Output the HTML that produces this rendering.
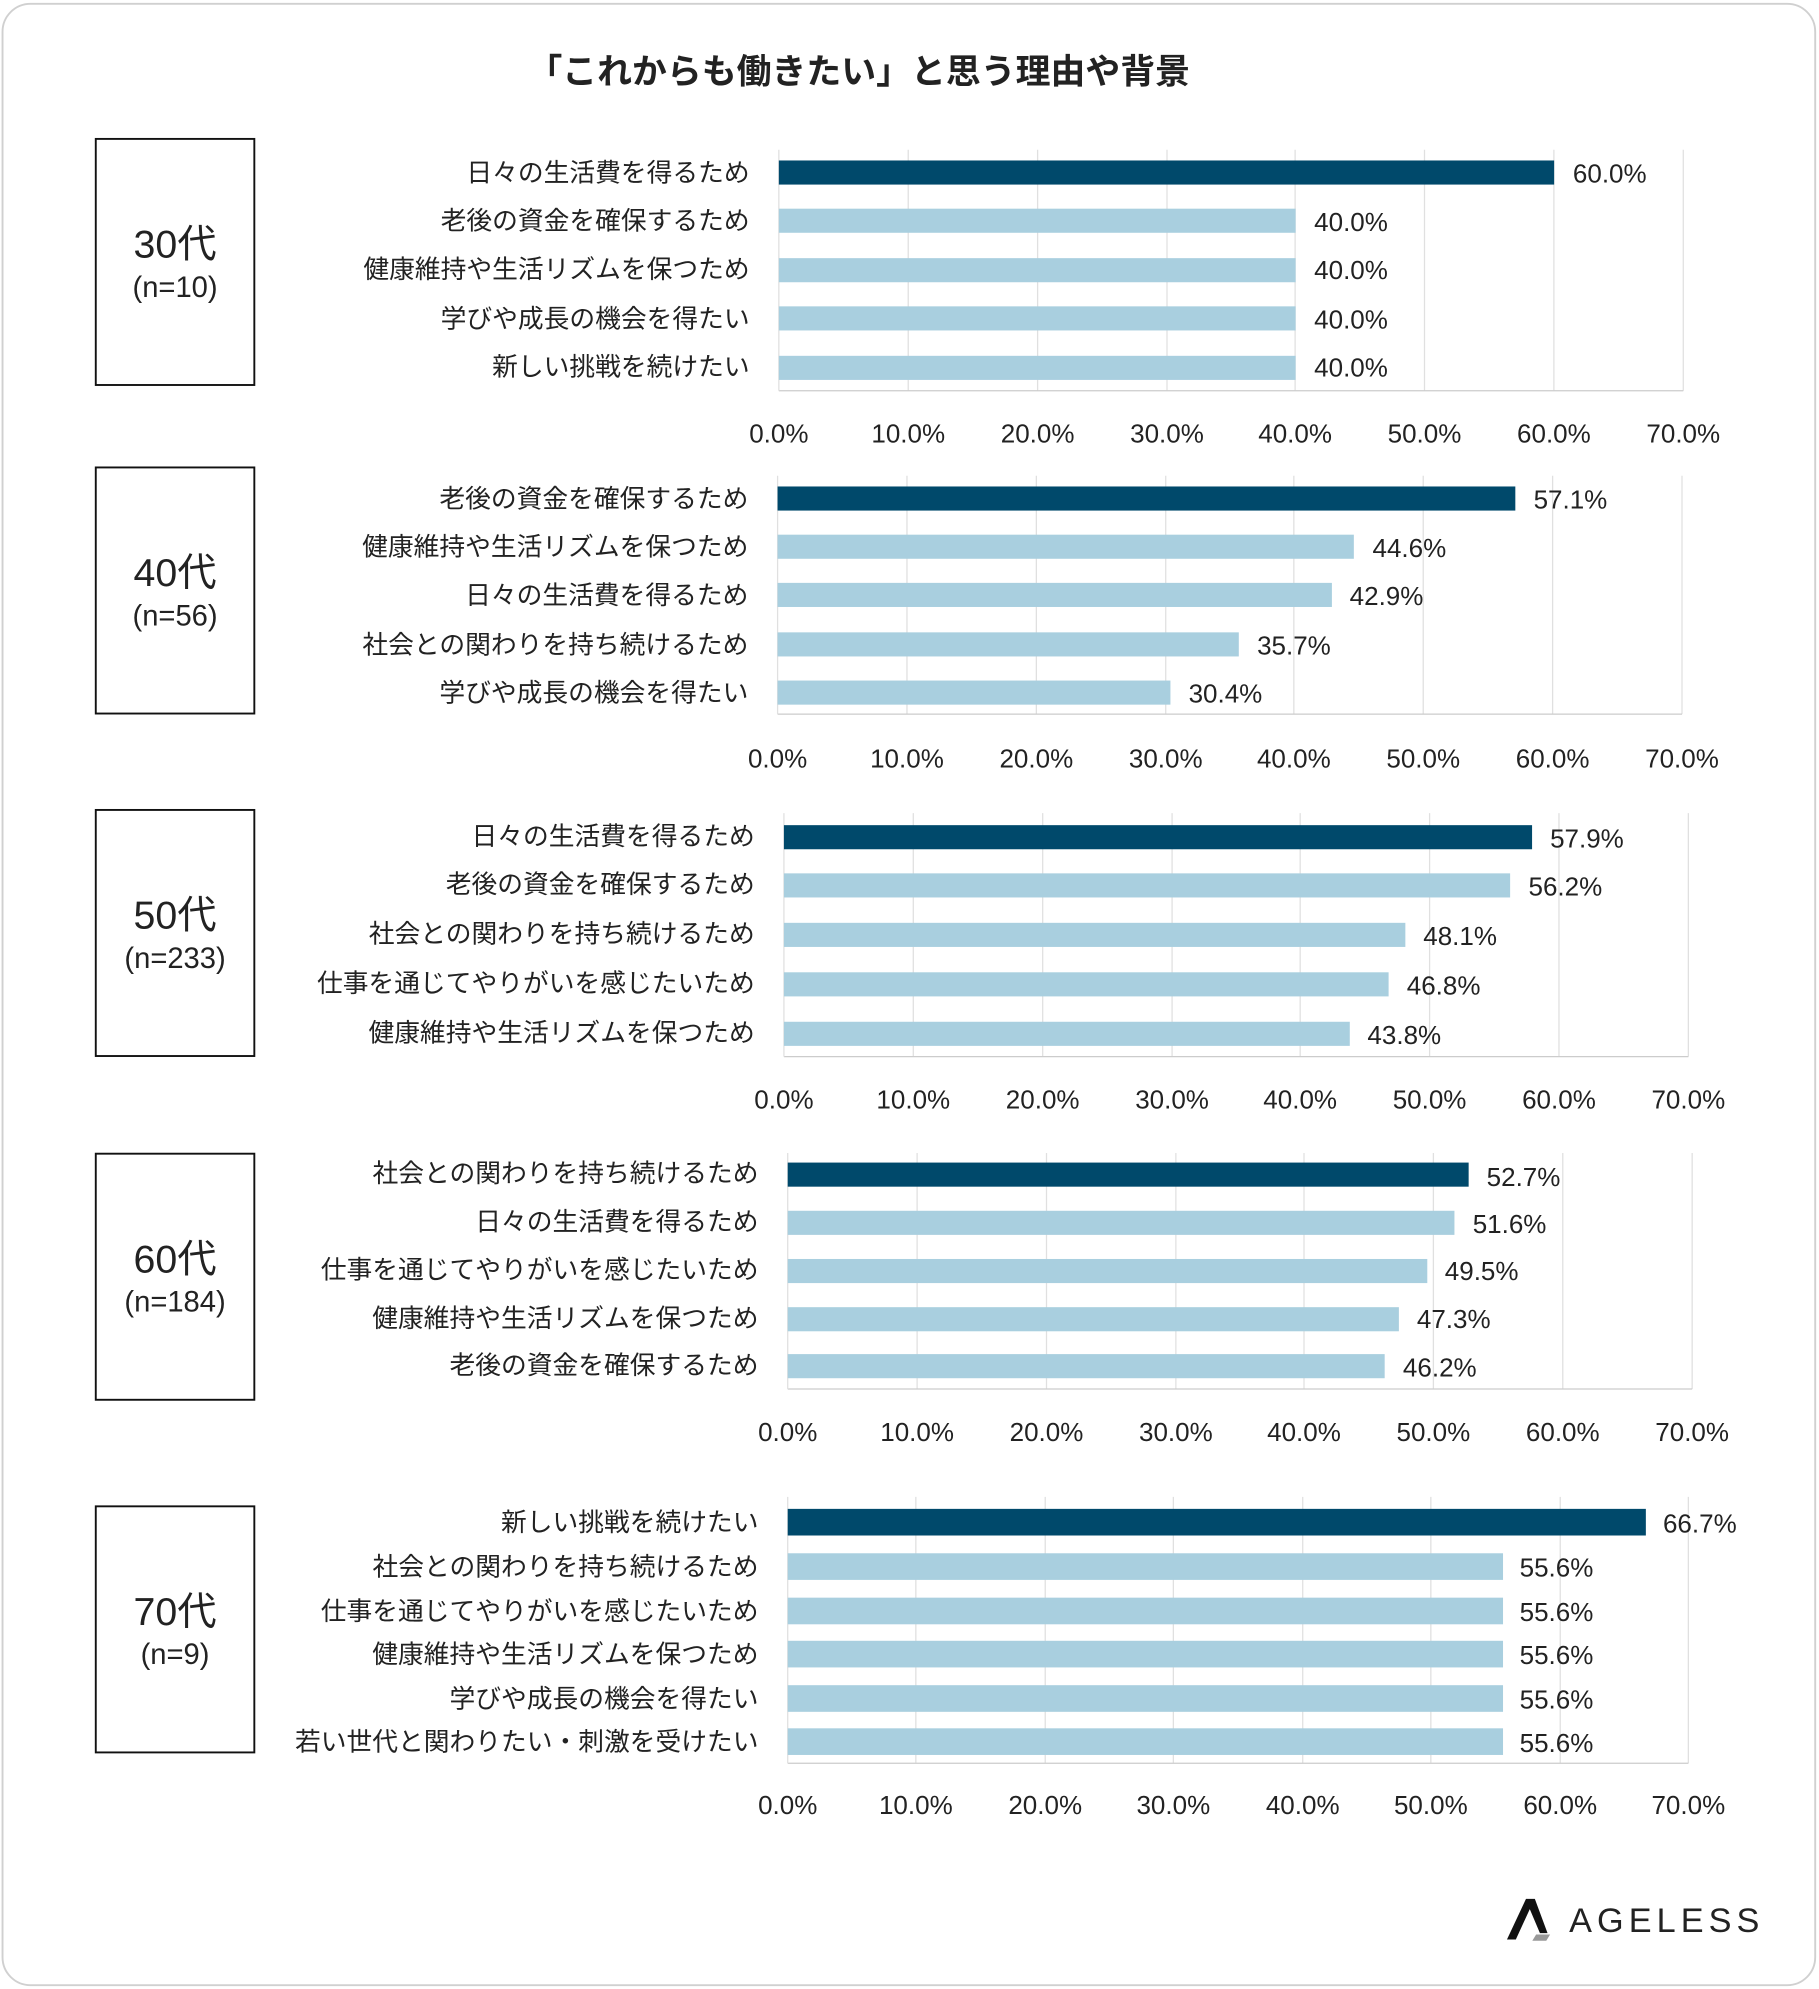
<!DOCTYPE html>
<html><head><meta charset="utf-8"><style>
html,body{margin:0;padding:0;background:#fff;}
svg{display:block;}
text{font-family:"Liberation Sans","Noto Sans CJK JP",sans-serif;fill:#222;}
.l{font-size:20.3px;text-anchor:end;}
.v{font-size:20.5px;}
.t{font-size:20.5px;text-anchor:middle;}
.g{stroke:#e0e0e0;stroke-width:1;}
.d{fill:#00496b;}
.b{fill:#a9cfdf;}
</style></head><body>
<svg width="1819" height="1989" viewBox="0 0 1434 1568" xmlns="http://www.w3.org/2000/svg">
<rect x="2" y="3" width="1429" height="1562" rx="22" fill="#fff" stroke="#d0d0d0" stroke-width="1.5"/>
<text x="677" y="66" style="font-size:27.5px;text-anchor:middle;font-weight:bold" fill="#222">「これからも働きたい」と思う理由や背景</text>

<!-- Panel 1 -->
<rect x="75.5" y="109.5" width="125" height="194" fill="none" stroke="#111" stroke-width="1.5"/>
<text x="138" y="203" style="font-size:31px;text-anchor:middle">30代</text>
<text x="138" y="234" style="font-size:23px;text-anchor:middle">(n=10)</text>
<g transform="translate(614,0)">
<g class="g"><line x1="102" y1="118" x2="102" y2="308"/><line x1="204" y1="118" x2="204" y2="308"/><line x1="306" y1="118" x2="306" y2="308"/><line x1="407" y1="118" x2="407" y2="308"/><line x1="509" y1="118" x2="509" y2="308"/><line x1="611" y1="118" x2="611" y2="308"/><line x1="713" y1="118" x2="713" y2="308"/></g>
<line x1="0" y1="308" x2="713" y2="308" stroke="#ccc"/><line x1="0" y1="118" x2="0" y2="308" stroke="#e0e0e0"/>
<rect class="d" x="0" y="126.5" width="611.2" height="19"/>
<rect class="b" x="0" y="164.5" width="407.4" height="19"/>
<rect class="b" x="0" y="203.5" width="407.4" height="19"/>
<rect class="b" x="0" y="241.5" width="407.4" height="19"/>
<rect class="b" x="0" y="280.5" width="407.4" height="19"/>
<text class="l" x="-23" y="143">日々の生活費を得るため</text>
<text class="l" x="-23" y="181">老後の資金を確保するため</text>
<text class="l" x="-23" y="219">健康維持や生活リズムを保つため</text>
<text class="l" x="-23" y="258">学びや成長の機会を得たい</text>
<text class="l" x="-23" y="296">新しい挑戦を続けたい</text>
<text class="v" x="626" y="144">60.0%</text>
<text class="v" x="422" y="182">40.0%</text>
<text class="v" x="422" y="220">40.0%</text>
<text class="v" x="422" y="259">40.0%</text>
<text class="v" x="422" y="297">40.0%</text>
<text class="t" x="0" y="349">0.0%</text><text class="t" x="102" y="349">10.0%</text><text class="t" x="204" y="349">20.0%</text><text class="t" x="306" y="349">30.0%</text><text class="t" x="407" y="349">40.0%</text><text class="t" x="509" y="349">50.0%</text><text class="t" x="611" y="349">60.0%</text><text class="t" x="713" y="349">70.0%</text>
</g>

<!-- Panel 2 -->
<rect x="75.5" y="368.5" width="125" height="194" fill="none" stroke="#111" stroke-width="1.5"/>
<text x="138" y="462" style="font-size:31px;text-anchor:middle">40代</text>
<text x="138" y="493" style="font-size:23px;text-anchor:middle">(n=56)</text>
<g transform="translate(613,0)">
<g class="g"><line x1="102" y1="375" x2="102" y2="563"/><line x1="204" y1="375" x2="204" y2="563"/><line x1="306" y1="375" x2="306" y2="563"/><line x1="407" y1="375" x2="407" y2="563"/><line x1="509" y1="375" x2="509" y2="563"/><line x1="611" y1="375" x2="611" y2="563"/><line x1="713" y1="375" x2="713" y2="563"/></g>
<line x1="0" y1="563" x2="713" y2="563" stroke="#ccc"/><line x1="0" y1="375" x2="0" y2="563" stroke="#e0e0e0"/>
<rect class="d" x="0" y="383.5" width="581.6" height="19"/>
<rect class="b" x="0" y="421.5" width="454.3" height="19"/>
<rect class="b" x="0" y="459.5" width="437.0" height="19"/>
<rect class="b" x="0" y="498.5" width="363.6" height="19"/>
<rect class="b" x="0" y="536.5" width="309.7" height="19"/>
<text class="l" x="-23" y="400">老後の資金を確保するため</text>
<text class="l" x="-23" y="438">健康維持や生活リズムを保つため</text>
<text class="l" x="-23" y="476">日々の生活費を得るため</text>
<text class="l" x="-23" y="515">社会との関わりを持ち続けるため</text>
<text class="l" x="-23" y="553">学びや成長の機会を得たい</text>
<text class="v" x="596" y="401">57.1%</text>
<text class="v" x="469" y="439">44.6%</text>
<text class="v" x="451" y="477">42.9%</text>
<text class="v" x="378" y="516">35.7%</text>
<text class="v" x="324" y="554">30.4%</text>
<text class="t" x="0" y="605">0.0%</text><text class="t" x="102" y="605">10.0%</text><text class="t" x="204" y="605">20.0%</text><text class="t" x="306" y="605">30.0%</text><text class="t" x="407" y="605">40.0%</text><text class="t" x="509" y="605">50.0%</text><text class="t" x="611" y="605">60.0%</text><text class="t" x="713" y="605">70.0%</text>
</g>

<!-- Panel 3 -->
<rect x="75.5" y="638.5" width="125" height="194" fill="none" stroke="#111" stroke-width="1.5"/>
<text x="138" y="732" style="font-size:31px;text-anchor:middle">50代</text>
<text x="138" y="763" style="font-size:23px;text-anchor:middle">(n=233)</text>
<g transform="translate(618,0)">
<g class="g"><line x1="102" y1="641" x2="102" y2="833"/><line x1="204" y1="641" x2="204" y2="833"/><line x1="306" y1="641" x2="306" y2="833"/><line x1="407" y1="641" x2="407" y2="833"/><line x1="509" y1="641" x2="509" y2="833"/><line x1="611" y1="641" x2="611" y2="833"/><line x1="713" y1="641" x2="713" y2="833"/></g>
<line x1="0" y1="833" x2="713" y2="833" stroke="#ccc"/><line x1="0" y1="641" x2="0" y2="833" stroke="#e0e0e0"/>
<rect class="d" x="0" y="650.5" width="589.8" height="19"/>
<rect class="b" x="0" y="688.5" width="572.5" height="19"/>
<rect class="b" x="0" y="727.5" width="489.9" height="19"/>
<rect class="b" x="0" y="766.5" width="476.7" height="19"/>
<rect class="b" x="0" y="805.5" width="446.1" height="19"/>
<text class="l" x="-23" y="666">日々の生活費を得るため</text>
<text class="l" x="-23" y="704">老後の資金を確保するため</text>
<text class="l" x="-23" y="743">社会との関わりを持ち続けるため</text>
<text class="l" x="-23" y="782">仕事を通じてやりがいを感じたいため</text>
<text class="l" x="-23" y="821">健康維持や生活リズムを保つため</text>
<text class="v" x="604" y="668">57.9%</text>
<text class="v" x="587" y="706">56.2%</text>
<text class="v" x="504" y="745">48.1%</text>
<text class="v" x="491" y="784">46.8%</text>
<text class="v" x="460" y="823">43.8%</text>
<text class="t" x="0" y="874">0.0%</text><text class="t" x="102" y="874">10.0%</text><text class="t" x="204" y="874">20.0%</text><text class="t" x="306" y="874">30.0%</text><text class="t" x="407" y="874">40.0%</text><text class="t" x="509" y="874">50.0%</text><text class="t" x="611" y="874">60.0%</text><text class="t" x="713" y="874">70.0%</text>
</g>

<!-- Panel 4 -->
<rect x="75.5" y="909.5" width="125" height="194" fill="none" stroke="#111" stroke-width="1.5"/>
<text x="138" y="1003" style="font-size:31px;text-anchor:middle">60代</text>
<text x="138" y="1034" style="font-size:23px;text-anchor:middle">(n=184)</text>
<g transform="translate(621,0)">
<g class="g"><line x1="102" y1="909" x2="102" y2="1095"/><line x1="204" y1="909" x2="204" y2="1095"/><line x1="306" y1="909" x2="306" y2="1095"/><line x1="407" y1="909" x2="407" y2="1095"/><line x1="509" y1="909" x2="509" y2="1095"/><line x1="611" y1="909" x2="611" y2="1095"/><line x1="713" y1="909" x2="713" y2="1095"/></g>
<line x1="0" y1="1095" x2="713" y2="1095" stroke="#ccc"/><line x1="0" y1="909" x2="0" y2="1095" stroke="#e0e0e0"/>
<rect class="d" x="0" y="916.5" width="536.8" height="19"/>
<rect class="b" x="0" y="954.5" width="525.6" height="19"/>
<rect class="b" x="0" y="992.5" width="504.2" height="19"/>
<rect class="b" x="0" y="1030.5" width="481.8" height="19"/>
<rect class="b" x="0" y="1067.5" width="470.6" height="19"/>
<text class="l" x="-23" y="932">社会との関わりを持ち続けるため</text>
<text class="l" x="-23" y="970">日々の生活費を得るため</text>
<text class="l" x="-23" y="1008">仕事を通じてやりがいを感じたいため</text>
<text class="l" x="-23" y="1046">健康維持や生活リズムを保つため</text>
<text class="l" x="-23" y="1083">老後の資金を確保するため</text>
<text class="v" x="551" y="935">52.7%</text>
<text class="v" x="540" y="972">51.6%</text>
<text class="v" x="518" y="1009">49.5%</text>
<text class="v" x="496" y="1047">47.3%</text>
<text class="v" x="485" y="1085">46.2%</text>
<text class="t" x="0" y="1136">0.0%</text><text class="t" x="102" y="1136">10.0%</text><text class="t" x="204" y="1136">20.0%</text><text class="t" x="306" y="1136">30.0%</text><text class="t" x="407" y="1136">40.0%</text><text class="t" x="509" y="1136">50.0%</text><text class="t" x="611" y="1136">60.0%</text><text class="t" x="713" y="1136">70.0%</text>
</g>

<!-- Panel 5 -->
<rect x="75.5" y="1187.5" width="125" height="194" fill="none" stroke="#111" stroke-width="1.5"/>
<text x="138" y="1281" style="font-size:31px;text-anchor:middle">70代</text>
<text x="138" y="1312" style="font-size:23px;text-anchor:middle">(n=9)</text>
<g transform="translate(621,0)">
<g class="g"><line x1="101" y1="1180" x2="101" y2="1390"/><line x1="203" y1="1180" x2="203" y2="1390"/><line x1="304" y1="1180" x2="304" y2="1390"/><line x1="406" y1="1180" x2="406" y2="1390"/><line x1="507" y1="1180" x2="507" y2="1390"/><line x1="609" y1="1180" x2="609" y2="1390"/><line x1="710" y1="1180" x2="710" y2="1390"/></g>
<line x1="0" y1="1390" x2="710" y2="1390" stroke="#ccc"/><line x1="0" y1="1180" x2="0" y2="1390" stroke="#e0e0e0"/>
<rect class="d" x="0" y="1189.5" width="676.5" height="21"/>
<rect class="b" x="0" y="1224.5" width="563.9" height="21"/>
<rect class="b" x="0" y="1259.5" width="563.9" height="21"/>
<rect class="b" x="0" y="1293.5" width="563.9" height="21"/>
<rect class="b" x="0" y="1328.5" width="563.9" height="21"/>
<rect class="b" x="0" y="1362.5" width="563.9" height="21"/>
<text class="l" x="-23" y="1207">新しい挑戦を続けたい</text>
<text class="l" x="-23" y="1242">社会との関わりを持ち続けるため</text>
<text class="l" x="-23" y="1277">仕事を通じてやりがいを感じたいため</text>
<text class="l" x="-23" y="1311">健康維持や生活リズムを保つため</text>
<text class="l" x="-23" y="1346">学びや成長の機会を得たい</text>
<text class="l" x="-23" y="1380">若い世代と関わりたい・刺激を受けたい</text>
<text class="v" x="690" y="1208">66.7%</text>
<text class="v" x="577" y="1243">55.6%</text>
<text class="v" x="577" y="1278">55.6%</text>
<text class="v" x="577" y="1312">55.6%</text>
<text class="v" x="577" y="1347">55.6%</text>
<text class="v" x="577" y="1381">55.6%</text>
<text class="t" x="0" y="1430">0.0%</text><text class="t" x="101" y="1430">10.0%</text><text class="t" x="203" y="1430">20.0%</text><text class="t" x="304" y="1430">30.0%</text><text class="t" x="406" y="1430">40.0%</text><text class="t" x="507" y="1430">50.0%</text><text class="t" x="609" y="1430">60.0%</text><text class="t" x="710" y="1430">70.0%</text>
</g>

<!-- Logo -->
<polygon points="1188,1529 1203,1497 1210,1497 1220,1524 1214,1524 1206,1505 1195,1529" fill="#111"/>
<polygon points="1211,1525 1222,1525 1219,1530 1208,1530" fill="#999"/>
<text x="1237" y="1523" style="font-size:27px;letter-spacing:4px" fill="#111">AGELESS</text>
</svg>
</body></html>
